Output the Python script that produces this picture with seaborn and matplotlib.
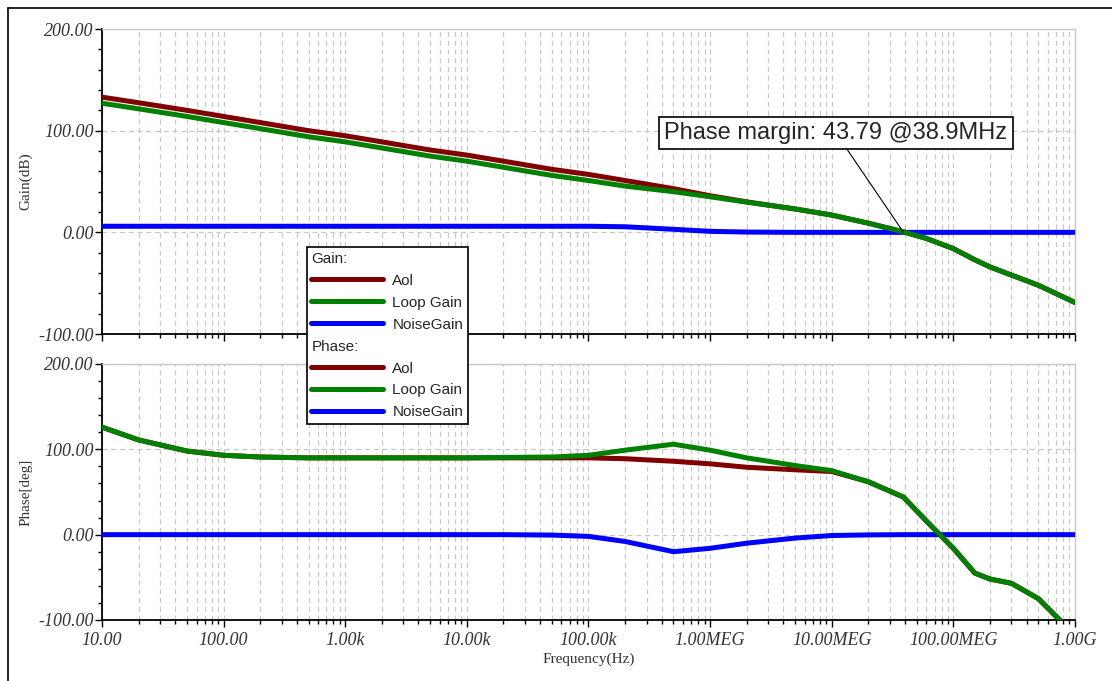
import numpy as np
import pandas as pd
import seaborn as sns
import matplotlib.pyplot as plt
from matplotlib.lines import Line2D
from matplotlib.ticker import FixedLocator, LogLocator, NullFormatter, FuncFormatter

# frequency points (Hz)
freq = [10, 20, 50, 100, 200, 500, 1e3, 2e3, 5e3, 1e4, 2e4, 5e4, 1e5, 2e5, 5e5,
        1e6, 2e6, 5e6, 1e7, 2e7, 3.89e7, 6e7, 1e8, 1.5e8, 2e8, 3e8, 5e8, 1e9]

# gain (dB)
aol_gain = [133, 127.5, 120, 114, 108, 100, 95, 89, 81, 76, 70, 62, 57, 51, 43,
            36, 30, 23, 17, 9, 0.5, -6, -16, -27, -34, -42, -52, -69]
loop_gain = [127, 121.5, 114, 108, 102, 94, 89, 83, 75, 70, 64, 56, 51, 45.5, 40,
             35, 29.7, 23, 17, 9, 0.5, -6, -16, -27, -34, -42, -52, -69]
noise_gain = [6, 6, 6, 6, 6, 6, 6, 6, 6, 6, 6, 6, 6, 5.5, 3,
              1, 0.3, 0, 0, 0, 0, 0, 0, 0, 0, 0, 0, 0]

# phase (deg)
aol_phase = [126, 111, 98, 93, 91, 90, 90, 90, 90, 90, 90, 90, 90, 89, 86,
             83, 79, 76, 74, 62, 44, 16, -16, -45, -52, -57, -75, -118]
loop_phase = [126, 111, 98, 93, 91, 90, 90, 90, 90, 90, 90.5, 91, 93, 99, 106,
              99, 90, 81, 75, 62, 44, 16, -16, -45, -52, -57, -75, -118]
noise_phase = [0, 0, 0, 0, 0, 0, 0, 0, 0, 0, 0, -0.5, -2, -8, -20,
               -16, -10, -4, -1, -0.3, 0, 0, 0, 0, 0, 0, 0, 0]

x_ticks = [10, 100, 1e3, 1e4, 1e5, 1e6, 1e7, 1e8, 1e9]
x_labels = ["10.00", "100.00", "1.00k", "10.00k", "100.00k",
            "1.00MEG", "10.00MEG", "100.00MEG", "1.00G"]
y_ticks = [-100, 0, 100, 200]

names = ["Aol", "Loop Gain", "NoiseGain"]
colors = ["#800000", "#008000", "#0000ff"]

sns.set_style("white")
plt.rcParams["font.family"] = ["Liberation Sans", "DejaVu Sans"]

fig = plt.figure(figsize=(11.12, 6.81), dpi=100)
ax_g = fig.add_axes([0.0917, 0.5095, 0.875, 0.4479])
ax_p = fig.add_axes([0.0917, 0.0896, 0.875, 0.3759])

lw = 3.6
for ax, series in [(ax_g, [aol_gain, loop_gain, noise_gain]),
                   (ax_p, [aol_phase, loop_phase, noise_phase])]:
    df = pd.DataFrame({"freq": freq})
    for nm, vals in zip(names, series):
        df[nm] = vals
    zs = {"Aol": 3, "Loop Gain": 5, "NoiseGain": 4}
    for nm, c in zip(names, colors):
        sns.lineplot(data=df, x="freq", y=nm, ax=ax, color=c, linewidth=lw,
                     legend=False, zorder=zs[nm])
    ax.set_xscale("log")
    ax.set_xlim(10, 1e9)
    ax.set_ylim(-100, 200)
    ax.yaxis.set_major_locator(FixedLocator(y_ticks))
    ax.yaxis.set_minor_locator(FixedLocator(np.arange(-100, 201, 20)))
    ax.yaxis.set_major_formatter(FuncFormatter(lambda v, p: f"{v:.2f}"))
    ax.xaxis.set_major_locator(FixedLocator(x_ticks))
    ax.xaxis.set_minor_locator(LogLocator(base=10, subs=np.arange(2, 10), numticks=100))
    ax.xaxis.set_minor_formatter(NullFormatter())
    ax.grid(True, which="major", axis="y", color="#c8c8c8", linestyle=(0, (4, 3)), linewidth=0.9)
    ax.grid(True, which="both", axis="x", color="#c8c8c8", linestyle=(0, (4, 3)), linewidth=0.9)
    ax.tick_params(axis="both", which="major", direction="out", length=5, width=1,
                   color="black", labelsize=13, labelcolor="#333333", pad=1,
                   left=True, bottom=True)
    ax.tick_params(axis="both", which="minor", direction="out", length=3, width=1,
                   color="black", left=True, bottom=True)
    for lab in ax.get_yticklabels():
        lab.set_fontfamily("Liberation Serif")
        lab.set_fontstyle("italic")
    for s in ["top", "right"]:
        ax.spines[s].set_color("#c8c8c8")
        ax.spines[s].set_linewidth(1)
    for s in ["left", "bottom"]:
        ax.spines[s].set_color("black")
        ax.spines[s].set_linewidth(1.3)
    ax.set_xlabel("")

ax_g.tick_params(axis="x", which="both", labelbottom=False)
ax_p.set_xticklabels(x_labels, fontfamily="Liberation Serif", fontstyle="italic",
                     fontsize=13, color="#333333")
ax_p.tick_params(axis="x", which="major", pad=4)

ax_g.set_ylabel("Gain(dB)", fontfamily="Liberation Serif", fontsize=11, color="#333333", labelpad=4)
ax_p.set_ylabel("Phase[deg]", fontfamily="Liberation Serif", fontsize=11, color="#333333", labelpad=4)
ax_p.set_xlabel("Frequency(Hz)", fontfamily="Liberation Serif", fontsize=11, color="#333333", labelpad=2)

# phase margin annotation
ax_g.annotate("Phase margin: 43.79 @38.9MHz", xy=(3.89e7, 0), xycoords="data",
              xytext=(836, 548), textcoords="figure pixels",
              ha="center", va="center", fontsize=17, zorder=10,
              bbox=dict(boxstyle="square,pad=0.22", fc="white", ec="black", lw=1.2),
              arrowprops=dict(arrowstyle="-", color="black", lw=0.8, shrinkA=0, shrinkB=0))

# legend spanning both plots
handles = [Line2D([], [], linestyle="none")]
labels = ["Gain:"]
for nm, c in zip(names, colors):
    handles.append(Line2D([], [], color=c, lw=lw, solid_capstyle="round"))
    labels.append(nm)
handles.append(Line2D([], [], linestyle="none"))
labels.append("Phase:")
for nm, c in zip(names, colors):
    handles.append(Line2D([], [], color=c, lw=lw, solid_capstyle="round"))
    labels.append(nm)

hl, htp, fs = 4.7, 0.6, 11
leg = fig.legend(handles, labels, loc="upper left", bbox_to_anchor=(0.276, 0.637),
                 fontsize=fs, frameon=True, fancybox=False, edgecolor="black",
                 framealpha=1, handlelength=hl, handletextpad=htp, labelspacing=0.52,
                 borderpad=0.3, borderaxespad=0)
leg.get_frame().set_linewidth(1.2)
leg.set_zorder(20)
shift = (hl + htp) * fs * fig.dpi / 72
for t in leg.get_texts():
    if t.get_text().endswith(":"):
        t.set_x(-shift)

# outer frame
fig.add_artist(Line2D([8 / 1112, 1.0], [673 / 681, 673 / 681], color="black", lw=1.2,
                      transform=fig.transFigure))
fig.add_artist(Line2D([8 / 1112, 8 / 1112], [0, 673 / 681], color="black", lw=1.2,
                      transform=fig.transFigure))

fig.savefig("out.png", dpi=100)
